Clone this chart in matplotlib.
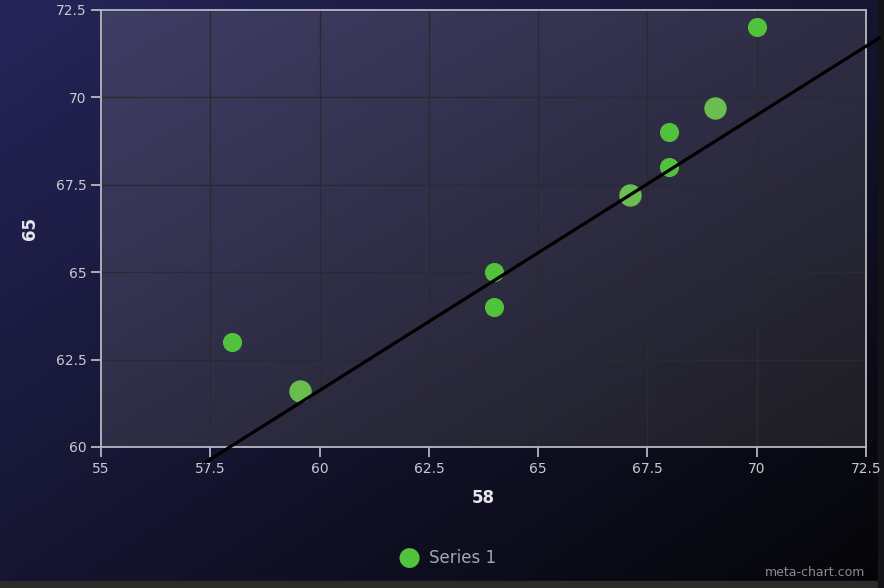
import numpy as np
import matplotlib.pyplot as plt
from matplotlib.colors import LinearSegmentedColormap

# data
x_vals = [58, 64, 64, 68, 68, 70]
y_vals = [63, 65, 64, 68, 69, 72]
# slightly bigger, lighter markers
x_big = [59.55, 67.1, 69.05]
y_big = [61.6, 67.2, 69.7]
# trend line end points
trend_x = [57.4, 72.8]
trend_y = [59.57, 71.7]

x_ticks = [55, 57.5, 60, 62.5, 65, 67.5, 70, 72.5]
y_ticks = [60, 62.5, 65, 67.5, 70, 72.5]
x_title = '58'
y_title = '65'
series_name = 'Series 1'


def diag_gradient(c1, c2, n=200):
    cmap = LinearSegmentedColormap.from_list('g', [c1, c2])
    xx, yy = np.meshgrid(np.linspace(0, 1, n), np.linspace(0, 1, n))
    return cmap((xx + yy) / 2)


fig = plt.figure(figsize=(8.84, 5.88), dpi=100)

# figure background gradient
bg = fig.add_axes([0, 0, 1, 1], zorder=-10)
bg.imshow(diag_gradient('#25255a', '#050508'), extent=[0, 1, 0, 1], aspect='auto', origin='upper')
bg.add_patch(plt.Rectangle((0, 0), 1, 7 / 588, color='#2b2b29', transform=bg.transAxes))
bg.add_patch(plt.Rectangle((1 - 6 / 884, 0), 6 / 884, 1, color='#141416', transform=bg.transAxes))
bg.set_xlim(0, 1)
bg.set_ylim(0, 1)
bg.axis('off')

ax = fig.add_axes([0.1143, 0.2398, 0.8654, 0.7432])
ax.set_xlim(55, 72.5)
ax.set_ylim(60, 72.5)
ax.imshow(diag_gradient('#403d66', '#1e1e24'), extent=[55, 72.5, 60, 72.5],
          aspect='auto', origin='upper', zorder=0)

ax.set_xticks(x_ticks)
ax.set_yticks(y_ticks)
ax.set_xticklabels([f'{t:g}' for t in x_ticks])
ax.set_yticklabels([f'{t:g}' for t in y_ticks])
ax.grid(True, color='#2a2a32', linewidth=1.0, zorder=1)
ax.tick_params(colors='#c4c4cc', labelcolor='#c8c8d0', labelsize=10, length=7, width=1.2)

for side in ['left', 'bottom', 'top', 'right']:
    ax.spines[side].set_color('#b8b8c4')
    ax.spines[side].set_linewidth(1.3)

ax.set_xlabel(x_title, color='#e6e6ec', fontsize=12, fontweight='bold', labelpad=10)
ax.set_ylabel(y_title, color='#e6e6ec', fontsize=12, fontweight='bold', labelpad=12)

ax.scatter(x_vals, y_vals, s=190, color='#52c13c', zorder=3, linewidths=0)
ax.scatter(x_big, y_big, s=260, color='#6abd4e', zorder=3, linewidths=0)
ax.plot(trend_x, trend_y, color='#000000', linewidth=2.3, zorder=4, clip_on=False)

# legend
fig.text(409 / 884, 1 - 558 / 588, '\u25CF', color='#52c13c', fontsize=19,
         ha='center', va='center')
fig.text(429 / 884, 1 - 558 / 588, series_name, color='#a6a6b0', fontsize=12,
         ha='left', va='center')

fig.text(865 / 884, 1 - 573 / 588, 'meta-chart.com', color='#8a8a90', fontsize=9,
         ha='right', va='center')

fig.savefig('out.png', dpi=100)
